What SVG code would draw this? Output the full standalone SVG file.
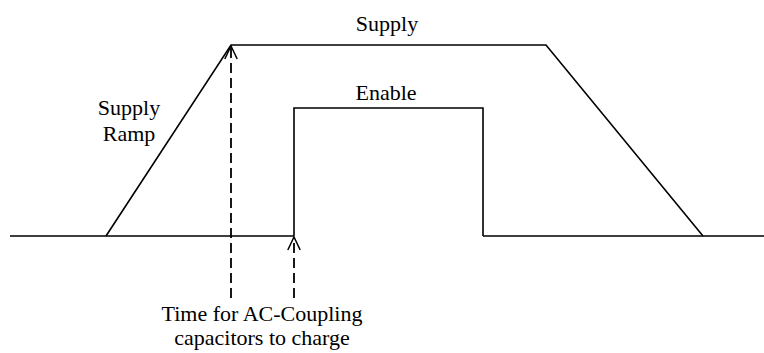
<svg xmlns="http://www.w3.org/2000/svg" width="764" height="353" viewBox="0 0 764 353">
<style>
.w{fill:none;stroke:#000;stroke-width:1.6}
.d{fill:none;stroke:#000;stroke-width:1.8;stroke-dasharray:10,5}
text{font-family:"Liberation Serif",serif;font-size:22px;fill:#000;text-anchor:middle}
</style>
<defs>
<marker id="a" viewBox="0 0 16 16" refX="14.5" refY="8" markerWidth="16" markerHeight="16" markerUnits="userSpaceOnUse" orient="auto">
<path d="M1.5,1.8 L14.5,8 L1.5,14.2" fill="none" stroke="#000" stroke-width="1.5"/>
</marker>
</defs>
<g id="connectors">
<path class="w" d="M10,236 H294 M483,236 H764"/>
<path id="supply" class="w" d="M106,236 L231,45 H546 L703,236"/>
<path id="enable" class="w" d="M294,236 V108 H483 V236"/>
<path class="d" d="M231,298 V46" marker-end="url(#a)"/>
<path class="d" d="M294,298 V237" marker-end="url(#a)"/>
</g>
<g id="labels">
<text x="387" y="31">Supply</text>
<text x="386" y="100">Enable</text>
<text x="129" y="115">Supply</text>
<text x="129" y="141">Ramp</text>
<text x="262" y="321">Time for AC-Coupling</text>
<text x="262" y="345">capacitors to charge</text>
</g>
</svg>
